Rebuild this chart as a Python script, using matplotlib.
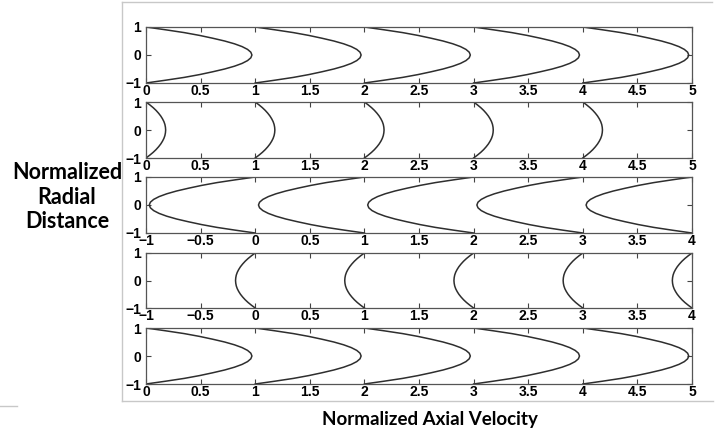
import numpy as np
import matplotlib
matplotlib.use('Agg')
import matplotlib.pyplot as plt
from matplotlib.lines import Line2D

# radial positions (normalized), top half; mirrored below
radius = [0.0, 0.1, 0.2, 0.3, 0.4, 0.5, 0.6, 0.7, 0.8, 0.9, 1.0]

# velocity profile shapes (offset from wall position)
profile_large = [0.97, 0.96, 0.93, 0.88, 0.81, 0.72, 0.61, 0.49, 0.35, 0.18, 0.0]
profile_small = [0.18, 0.178, 0.173, 0.164, 0.151, 0.135, 0.115, 0.092, 0.065, 0.034, 0.0]

# one entry per panel, top to bottom
panel_xlim = [(0, 5), (0, 5), (-1, 4), (-1, 4), (0, 5)]
panel_walls = [[0, 1, 2, 3, 4]] * 5
panel_sign = [1, 1, -1, -1, 1]
panel_shape = [profile_large, profile_small, profile_large, profile_small, profile_large]
xtick_labels = {
    (0, 5): ['0', '0.5', '1', '1.5', '2', '2.5', '3', '3.5', '4', '4.5', '5'],
    (-1, 4): ['\u22121', '\u22120.5', '0', '0.5', '1', '1.5', '2', '2.5', '3', '3.5', '4'],
}
ytick_vals = [-1, 0, 1]
ytick_labels = ['\u22121', '0', '1']

W, H = 718, 434
fig = plt.figure(figsize=(W / 100, H / 100), dpi=100)
fig.patch.set_facecolor('white')

# pixel rows (top, bottom) of each panel
panel_rows = [(27, 83), (102, 158), (177, 233), (253, 308), (328, 384)]
left_px, right_px = 146, 692

tick_font = dict(family=['Liberation Sans', 'DejaVu Sans'], weight='bold', size=10)
line_col = '#2e2e2e'

r = np.array(radius)
y_full = np.concatenate([-r[::-1], r[1:]])

for i in range(5):
    top, bot = panel_rows[i]
    ax = fig.add_axes([left_px / W, 1 - bot / H, (right_px - left_px) / W, (bot - top) / H])
    shape = np.array(panel_shape[i])
    u_full = np.concatenate([shape[::-1], shape[1:]])
    for w in panel_walls[i]:
        ax.plot(w + panel_sign[i] * u_full, y_full, color=line_col, lw=1.1)
    x0, x1 = panel_xlim[i]
    ax.set_xlim(x0, x1)
    ax.set_ylim(-1, 1)
    xt = np.arange(x0, x1 + 0.01, 0.5)
    ax.set_xticks(xt)
    ax.set_xticklabels(xtick_labels[panel_xlim[i]], fontdict=tick_font)
    ax.set_yticks(ytick_vals)
    ax.set_yticklabels(ytick_labels, fontdict=tick_font)
    ax.tick_params(direction='in', length=3.5, width=0.8, color='#444444',
                   top=True, right=True)
    ax.tick_params(axis='x', pad=1.0)
    ax.tick_params(axis='y', pad=3.5)
    for s in ax.spines.values():
        s.set_color('#555555')
        s.set_linewidth(0.9)

fig.text(67 / W, 1 - 197 / H, 'Normalized\nRadial\nDistance', ha='center', va='center',
         family=['Lato', 'DejaVu Sans'], weight='bold', fontsize=15.5, linespacing=1.2)
fig.text(430 / W, 1 - 420 / H, 'Normalized Axial Velocity', ha='center', va='center',
         family=['Lato', 'DejaVu Sans'], weight='bold', fontsize=13.5)

# light frame of the pasted figure
frame_col = '#c8c8c8'
fig.add_artist(Line2D([122 / W, 712 / W], [1 - 1.5 / H, 1 - 1.5 / H], color=frame_col, lw=1))
fig.add_artist(Line2D([122 / W, 122 / W], [1 - 1.5 / H, 1 - 401 / H], color=frame_col, lw=1))
fig.add_artist(Line2D([122 / W, 713 / W], [1 - 401 / H, 1 - 401 / H], color=frame_col, lw=1))
fig.add_artist(Line2D([0, 17 / W], [1 - 406 / H, 1 - 406 / H], color=frame_col, lw=1))

fig.savefig('out.png', dpi=100)
